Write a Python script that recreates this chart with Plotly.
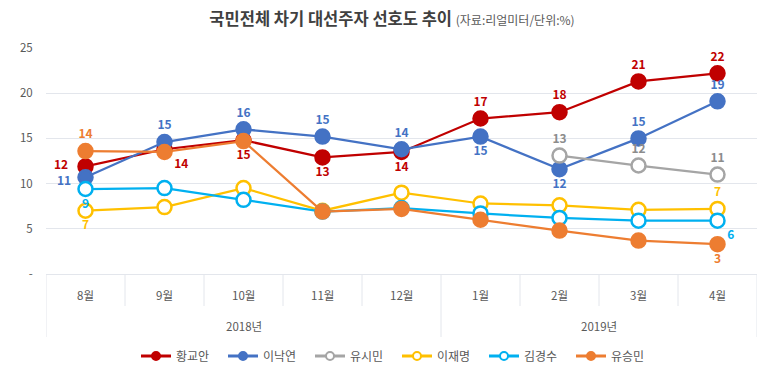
import plotly.graph_objects as go

months = ["8월", "9월", "10월", "11월", "12월", "1월", "2월", "3월", "4월"]
years = ["2018년", "2019년"]
year_spans = [(0, 4), (5, 8)]

names = ["황교안", "이낙연", "유시민", "이재명", "김경수", "유승민"]
hwang = [11.9, 13.8, 14.8, 12.9, 13.5, 17.2, 17.9, 21.3, 22.2]
lee_ny = [10.7, 14.6, 16.0, 15.2, 13.8, 15.2, 11.6, 15.0, 19.1]
yoo_sm = [None, None, None, None, None, None, 13.1, 12.0, 11.0]
lee_jm = [7.0, 7.4, 9.5, 7.0, 9.0, 7.8, 7.6, 7.1, 7.2]
kim_gs = [9.4, 9.5, 8.2, 6.9, 7.3, 6.7, 6.2, 5.9, 5.9]
yoo_sm2 = [13.6, 13.5, 14.7, 6.9, 7.2, 6.0, 4.8, 3.7, 3.3]
series = [hwang, lee_ny, yoo_sm, lee_jm, kim_gs, yoo_sm2]

# which points carry a data label (as trace text)
labeled = [
    [1, 2, 3, 4, 5, 6, 7, 8],
    [1, 2, 3, 4, 5, 6, 7, 8],
    [6, 7, 8],
    [0, 8],
    [0, 8],
    [0, 8],
]
# labels drawn as shifted annotations (series index, point index, xshift, yshift)
side_labels = [(0, 0, -25, 3), (1, 0, -22, -2)]

colors = ["#C00000", "#4472C4", "#A5A5A5", "#FFC000", "#00B0F0", "#ED7D31"]
label_colors = ["#C00000", "#4472C4", "#8C8C8C", "#FFC000", "#00B0F0", "#ED7D31"]
filled = [True, True, False, False, False, True]

T, B, R = "top center", "bottom center", "bottom right"
positions = [
    [B, R, B, B, B, T, T, T, T],
    [B, T, T, T, T, B, B, T, T],
    [T] * 9,
    [B, B, B, B, B, B, B, B, T],
    [B, B, B, B, B, B, B, B, R],
    [T, T, T, T, T, T, T, T, B],
]

FONT = "Noto Sans CJK KR"
GRAY = "#595959"
GRID = "#E3E6EC"
LABEL_SIZE = 12

# the page body adds an 8px margin; size the figure so it fits the window
W, H = 765, 376

fig = go.Figure()
for i, name in enumerate(names):
    vals = series[i]
    texts = [
        (str(int(round(v))) if (j in labeled[i] and v is not None) else "")
        for j, v in enumerate(vals)
    ]
    fig.add_trace(go.Scatter(
        x=months, y=vals, name=name, showlegend=False,
        mode="lines+markers+text",
        text=texts, textposition=positions[i],
        textfont=dict(family=FONT, size=LABEL_SIZE, color=label_colors[i], weight="bold"),
        line=dict(color=colors[i], width=2.25),
        marker=dict(size=14, symbol="circle",
                    color=colors[i] if filled[i] else "white",
                    line=dict(color=colors[i], width=2.5)),
        cliponaxis=False,
        connectgaps=False,
    ))

# legend entries (smaller symbols than on the plot)
for i, name in enumerate(names):
    fig.add_trace(go.Scatter(
        x=[None], y=[None], name=name, mode="lines+markers", showlegend=True,
        line=dict(color=colors[i], width=3),
        marker=dict(size=8, symbol="circle",
                    color=colors[i] if filled[i] else "white",
                    line=dict(color=colors[i], width=2)),
    ))

plot_h = 226

def py(pix):
    return (274 - pix) / plot_h

shapes = []
for k in range(len(months) + 1):
    full = k in (0, 5, len(months))
    shapes.append(dict(
        type="line", xref="x", yref="paper",
        x0=k - 0.5, x1=k - 0.5, y0=py(275), y1=py(337 if full else 306),
        line=dict(color=GRID, width=1),
    ))

annotations = []
for m in months:
    annotations.append(dict(
        x=m, y=py(295), xref="x", yref="paper", text=m, showarrow=False,
        font=dict(family=FONT, size=11.5, color=GRAY), yanchor="middle",
    ))
for yname, (a, b) in zip(years, year_spans):
    annotations.append(dict(
        x=(a + b) / 2, y=py(326), xref="x", yref="paper", text=yname, showarrow=False,
        font=dict(family=FONT, size=11.5, color=GRAY), yanchor="middle",
    ))
for si, pi, dx, dy in side_labels:
    v = series[si][pi]
    annotations.append(dict(
        x=months[pi], y=v, xref="x", yref="y", text=str(int(round(v))), showarrow=False,
        xshift=dx, yshift=dy, xanchor="center", yanchor="middle",
        font=dict(family=FONT, size=LABEL_SIZE, color=label_colors[si], weight="bold"),
    ))

fig.update_layout(
    width=W, height=H,
    margin=dict(l=33, r=16, t=40, b=110),
    paper_bgcolor="white", plot_bgcolor="white",
    font=dict(family=FONT, color=GRAY),
    title=dict(
        text="<b>국민전체 차기 대선주자 선호도 추이</b> <span style='font-size:12px;color:#595959'>(자료:리얼미터/단위:%)</span>",
        font=dict(family=FONT, size=16.5, color="#404040"),
        x=384 / W, xref="container", xanchor="center",
        y=1 - 11.5 / H, yref="container", yanchor="middle",
    ),
    xaxis=dict(
        type="category", categoryorder="array", categoryarray=months,
        range=[-0.5, len(months) - 0.5],
        showticklabels=False, showgrid=False, zeroline=False, ticks="",
        showline=False,
    ),
    yaxis=dict(
        range=[0, 25], tickvals=[0, 5, 10, 15, 20, 25],
        ticktext=["-", "5", "10", "15", "20", "25"],
        showgrid=True, gridcolor=GRID, gridwidth=1,
        zeroline=True, zerolinecolor=GRID, zerolinewidth=1,
        ticks="outside", ticklen=10, tickcolor="rgba(0,0,0,0)",
        tickfont=dict(family=FONT, size=11.5, color=GRAY),
        showline=False,
    ),
    legend=dict(
        orientation="h", x=389 / W, xref="container", xanchor="center",
        y=1 - 348 / H, yref="container", yanchor="middle",
        font=dict(family=FONT, size=12, color=GRAY),
        entrywidth=42, entrywidthmode="pixels",
        itemclick=False,
    ),
    shapes=shapes,
    annotations=annotations,
    showlegend=True,
)

fig.write_html("out.html")
